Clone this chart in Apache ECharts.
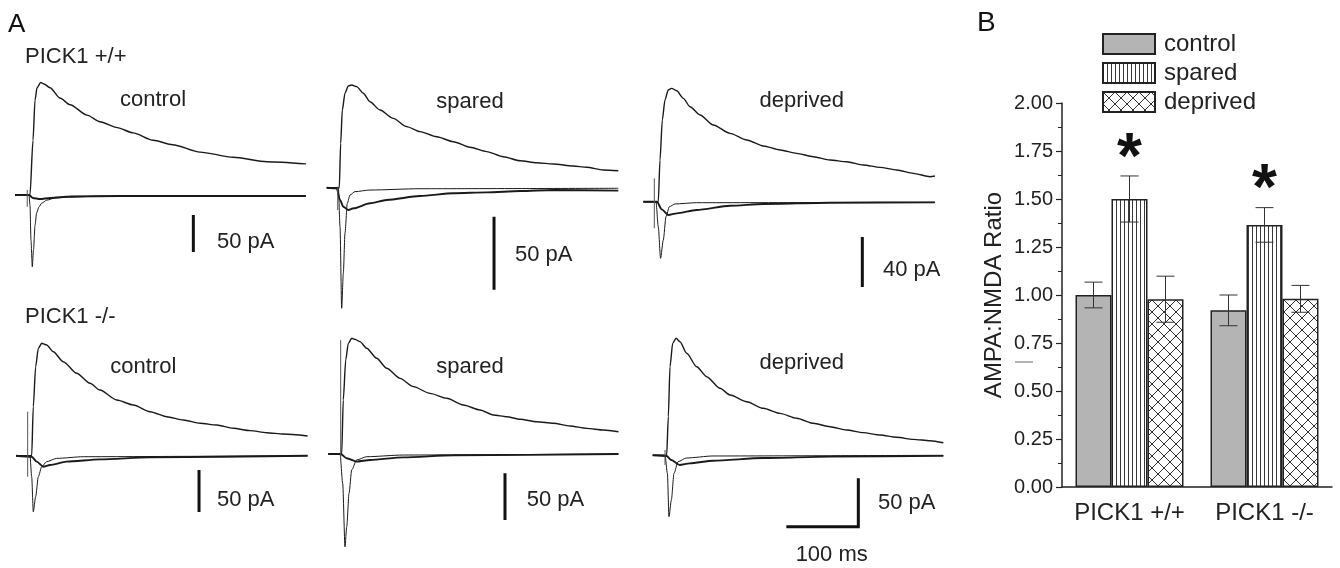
<!DOCTYPE html>
<html><head><meta charset="utf-8">
<script src="https://cdn.jsdelivr.net/npm/echarts@6/dist/echarts.min.js"></script>
<style>html,body{margin:0;padding:0;background:#fff}#c{width:1340px;height:568px}</style>
</head><body><div id="c"></div>
<script>
// ================= DATA =================
// Panel A traces: [time (ms), current (pA)]
// PICK1 +/+ control
const wtControlUp = [[0,0],[20.8,0],[25,74],[27.8,128],[30.6,145],[35.7,152],[40.3,150],[48.6,145],[62.5,131],[76.4,122],[100,108],[118,99],[142,91],[164,84],[192,74],[219,68],[257,58],[303,51],[350,45],[404,42]];
const wtControlFast = [[0,0],[19.4,0],[20.8,-13.5],[22.2,-61],[24,-97],[25.7,-74],[27.8,-41],[30.1,-24],[33.3,-16],[37.1,-11],[44,-7],[55.6,-4],[72,-3],[118,-1.5],[404,-1]];
const wtControlSlow = [[0,0],[19.4,0],[25,-4],[34.7,-5.4],[48.6,-4],[76,-2],[146,-1.4],[404,-1.4]];
// PICK1 +/+ spared
const wtSparedUp = [[0,0],[17.5,0],[19.4,30.4],[21.7,53.2],[25.4,64.7],[30,69.7],[34.7,70.3],[41.7,69.2],[50.8,64.7],[60.1,58.9],[74,53.2],[92.5,47.5],[111,41.8],[129.6,38.4],[152.8,34.9],[175.9,31.5],[199,27.7],[222.3,24.7],[245.3,21.2],[268.5,18.5],[291.7,17.1],[314.7,16.2],[342.5,14.9],[361,14],[384,12.1],[405,11.6]];
const wtSparedFast = [[0,0],[16.2,0],[18.5,-26.7],[20.8,-82.6],[23.1,-58.6],[25.4,-31.2],[28.6,-10.7],[32.4,-5],[39.3,-2.7],[60.1,-1.6],[129.6,-0.7],[405,-0.4]];
const wtSparedSlow = [[0,0],[13.9,-0.4],[18.5,-8.4],[23.1,-13],[30,-15.3],[37.5,-14.1],[60.1,-10.7],[83.3,-8.4],[129.6,-5.7],[175.9,-3.8],[222.3,-3.2],[268.5,-2.3],[314.7,-1.6],[405,-2]];
// PICK1 +/+ deprived
const wtDeprivedUp = [[0,0],[20.8,0],[23.2,33.4],[26.4,65.4],[30.1,81.4],[34.7,89.4],[39.4,90.7],[46.4,88.8],[55.6,82.7],[64.9,76],[78.8,69.4],[97.2,61.4],[120.4,54.7],[143.6,49.4],[166.7,44.6],[189.9,41.4],[213,38.7],[236.1,36],[259.3,33.4],[282.5,32],[305.6,29.4],[328.8,27.5],[352,25.4],[375,22.7],[398.2,20],[405,20.6]];
const wtDeprivedFast = [[0,0],[17.6,0],[20.8,-20],[24,-45.3],[27.8,-30.6],[31.5,-12],[36.2,-4],[44,-1.8],[74,-0.8],[405,-0.5]];
const wtDeprivedSlow = [[0,0],[19,0],[25.5,-6.1],[34.7,-10.6],[46.4,-9.3],[74,-6.6],[120.4,-3.2],[166.7,-1.8],[259.3,-0.8],[405,-0.5]];
// PICK1 -/- control
const koControlUp = [[0,0],[21.8,0],[24,58.3],[27.3,106],[31,127.8],[35.7,133.8],[42.6,131.8],[51.8,123.8],[65.7,111.9],[84.3,98.1],[102.8,86.2],[116.7,78.2],[139.9,66.3],[163,60.4],[186.1,52.4],[209.3,46.4],[232.4,42.5],[255.6,38.6],[278.7,36.5],[301.9,32.6],[325,29.8],[348.2,27.4],[371.3,25.8],[405,23.5]];
const koControlFast = [[0,0],[19.4,0],[21.8,-25],[24,-66.7],[27.3,-48.8],[31,-25],[35.7,-13.1],[42.6,-7.1],[56.5,-3.2],[93.5,-1.2],[405,0]];
const koControlSlow = [[0,0],[21.8,-1.2],[28.7,-7.1],[38,-13.1],[47.1,-11.1],[70.3,-7.1],[116.7,-4.4],[186.1,-2],[405,0]];
// PICK1 -/- spared
const koSparedUp = [[0,0],[18.6,0],[20.8,57.9],[24.2,100.8],[27.8,118.6],[32.5,124],[37.1,122.9],[44,120.4],[53.3,113.3],[67.2,102.6],[81.1,91.9],[99.6,81.1],[118.1,72.2],[141.3,65],[164.5,59.7],[187.5,52.5],[210.7,47.2],[229.2,41.8],[247.8,40],[266.3,37.2],[289.5,34.6],[312.5,32.9],[335.7,30],[358.9,27.5],[382,25.7],[403,23.9]];
const koSparedFast = [[0,0],[16.3,0],[20,-31.4],[23.2,-99.4],[25.6,-77.9],[28.8,-42.1],[32.5,-17.1],[39.4,-6.4],[53.3,-2.9],[104.2,-1.1],[403,0]];
const koSparedSlow = [[0,0],[17.2,0],[25.6,-4.6],[39.4,-8.2],[57.9,-6.4],[104.2,-3.6],[173.6,-1.4],[403,0]];
// PICK1 -/- deprived
const koDeprivedUp = [[0,0],[19.4,0],[21.7,40],[24,91.6],[27.8,115.8],[32.4,121],[37.9,117.5],[47.2,105.5],[61.1,91.6],[75,81.3],[93.5,69.3],[107.4,62.4],[130.6,55.4],[153.6,48.6],[176.8,43.4],[200,38.3],[223.1,33.1],[246.3,29.6],[269.4,26.2],[292.5,23.4],[315.7,21],[338.9,18.6],[362,16.5],[385.2,15.1],[403.7,13]];
const koDeprivedFast = [[0,0],[17.1,0],[20.4,-18.6],[22.6,-63.5],[25.9,-46.2],[29.6,-18.6],[35.2,-6.6],[46.7,-2.8],[83.8,-0.7],[403.7,0]];
const koDeprivedSlow = [[0,0],[19.4,-0.7],[25.9,-4.9],[37.5,-10],[51.4,-8.3],[83.8,-5.6],[153.6,-2.8],[246.3,-1.4],[403.7,-0.6]];

// stimulus artifacts: time (ms) and [top, bottom] (pA)
const stimTime = [17, 15.3, 15.3, 16.2, 17.2, 17.1];
const stimRange = [[6.8,-16],[0.7,-15.3],[18.7,-21.3],[52.4,-25],[122,-5],[5.5,-10]];

const conditions = ['control','spared','deprived','control','spared','deprived'];
const genotypes = ['PICK1 +/+','PICK1 -/-'];
const scaleBarPA = [50, 50, 40, 50, 50, 50];
const timeBarMs = 100;

// Panel B data
const groups = ['PICK1 +/+','PICK1 -/-'];
const controlMean = [1.00, 0.92];
const controlSem  = [0.067, 0.08];
const sparedMean  = [1.50, 1.365];
const sparedSem   = [0.12, 0.09];
const deprivedMean = [0.978, 0.98];
const deprivedSem  = [0.12, 0.07];
const sparedSig = ['*','*'];

// ================= LAYOUT =================
const FONT = '"Liberation Sans", Arial, sans-serif';
const PX_PER_MS = 0.72;
const T_MAX = 405;
const panels = [
  {left:15,    base:195,   pxPerPA:0.74,  min:-110, max:160, barT:247.7, barTop:-27,   cond:[153,100],   lbl:[217,242]},
  {left:326.7, base:187.7, pxPerPA:1.46,  min:-90,  max:80,  barT:232.4, barTop:-19.9, cond:[470,101.7], lbl:[515,255]},
  {left:643.3, base:201.7, pxPerPA:1.25,  min:-75,  max:100, barT:304.2, barTop:-28.2, cond:[801.7,100.7], lbl:[883,270]},
  {left:16,    base:455.7, pxPerPA:0.84,  min:-75,  max:145, barT:254.2, barTop:-17,   cond:[143.3,366.7], lbl:[217,500]},
  {left:328.3, base:454,   pxPerPA:0.933, min:-110, max:135, barT:245.4, barTop:-20.7, cond:[470,366.7], lbl:[526.7,500]},
  {left:652.7, base:455.3, pxPerPA:0.967, min:-85,  max:130, barT:285.6, barTop:-23.8, cond:[801.7,363.3], lbl:[878,503]}
];
const traces = [
  [wtControlUp, wtControlFast, wtControlSlow],
  [wtSparedUp, wtSparedFast, wtSparedSlow],
  [wtDeprivedUp, wtDeprivedFast, wtDeprivedSlow],
  [koControlUp, koControlFast, koControlSlow],
  [koSparedUp, koSparedFast, koSparedSlow],
  [koDeprivedUp, koDeprivedFast, koDeprivedSlow]
];

// ================= BUILD =================
const grid = [], xAxis = [], yAxis = [], series = [], graphic = [];
panels.forEach((p, i) => {
  grid.push({left:p.left, top:p.base - p.max*p.pxPerPA, width:T_MAX*PX_PER_MS, height:(p.max-p.min)*p.pxPerPA});
  xAxis.push({type:'value', gridIndex:i, min:0, max:T_MAX, show:false});
  yAxis.push({type:'value', gridIndex:i, min:p.min, max:p.max, show:false});
  const widths = [1.4, 1.0, 1.9];
  traces[i].forEach((d, k) => {
    series.push({type:'line', xAxisIndex:i, yAxisIndex:i, data:d, symbol:'none', smooth:0.25, smoothMonotone:'x',
      lineStyle:{color:'#1a1a1a', width:widths[k]}, silent:true, z:2});
  });
  series.push({type:'line', xAxisIndex:i, yAxisIndex:i, symbol:'none', silent:true,
    data:[[stimTime[i], stimRange[i][0]],[stimTime[i], stimRange[i][1]]],
    lineStyle:{color:'#555', width:1}});
  // vertical scale bar (and time bar in the last panel)
  const sb = [[p.barT, p.barTop],[p.barT, p.barTop - scaleBarPA[i]]];
  if (i === 5) sb.push([p.barT - timeBarMs, p.barTop - scaleBarPA[i]]);
  series.push({type:'line', xAxisIndex:i, yAxisIndex:i, symbol:'none', silent:true, data:sb,
    lineStyle:{color:'#111', width:3, cap:'butt', join:'miter'}});
  graphic.push({type:'text', x:p.cond[0], y:p.cond[1], style:{text:conditions[i], font:'22px '+FONT, fill:'#222', textAlign:'center', textVerticalAlign:'middle'}});
  graphic.push({type:'text', x:p.lbl[0], y:p.lbl[1], style:{text:scaleBarPA[i]+' pA', font:'22px '+FONT, fill:'#222', textAlign:'left', textVerticalAlign:'middle'}});
});
graphic.push({type:'text', x:831.7, y:555, style:{text:timeBarMs+' ms', font:'22px '+FONT, fill:'#222', textAlign:'center', textVerticalAlign:'middle'}});
graphic.push({type:'text', x:25, y:57, style:{text:genotypes[0], font:'22px '+FONT, fill:'#222', textAlign:'left', textVerticalAlign:'middle'}});
graphic.push({type:'text', x:25, y:316.5, style:{text:genotypes[1], font:'22px '+FONT, fill:'#222', textAlign:'left', textVerticalAlign:'middle'}});
graphic.push({type:'text', x:8, y:25, style:{text:'A', font:'26px '+FONT, fill:'#111', textAlign:'left', textVerticalAlign:'middle'}});
graphic.push({type:'text', x:977, y:23, style:{text:'B', font:'28px '+FONT, fill:'#111', textAlign:'left', textVerticalAlign:'middle'}});
graphic.push({type:'line', shape:{x1:1015, y1:362, x2:1033, y2:362}, style:{stroke:'#999', lineWidth:1.5}});

// ---- Panel B
function vPattern(){
  const c = document.createElement('canvas'); c.width = 4; c.height = 4;
  const g = c.getContext('2d'); g.fillStyle = '#fff'; g.fillRect(0,0,4,4);
  g.fillStyle = '#3a3a3a'; g.fillRect(0,0,1,4); return c;
}
function xPattern(){
  const s = 12, c = document.createElement('canvas'); c.width = s; c.height = s;
  const g = c.getContext('2d'); g.fillStyle = '#fff'; g.fillRect(0,0,s,s);
  g.strokeStyle = '#333'; g.lineWidth = 1; g.beginPath();
  g.moveTo(0,0); g.lineTo(s,s); g.moveTo(s,0); g.lineTo(0,s); g.stroke(); return c;
}
const bi = 6;
grid.push({left:1062, top:103, width:270, height:384});
xAxis.push({type:'category', gridIndex:bi, data:groups,
  axisLine:{lineStyle:{color:'#222', width:1.5}},
  axisTick:{alignWithLabel:true, length:7, lineStyle:{color:'#222', width:1.5}},
  axisLabel:{fontSize:24, fontFamily:FONT, color:'#222', margin:14, interval:0, hideOverlap:false}});
yAxis.push({type:'value', gridIndex:bi, min:0, max:2, interval:0.25,
  name:'AMPA:NMDA Ratio', nameLocation:'middle', nameGap:56,
  nameTextStyle:{fontSize:24, fontFamily:FONT, color:'#222'},
  axisLine:{show:true, lineStyle:{color:'#222', width:1.5}},
  axisTick:{show:true, length:6, lineStyle:{color:'#222', width:1.2}},
  minorTick:{show:true, splitNumber:2, length:4, lineStyle:{color:'#222', width:1}},
  splitLine:{show:false},
  axisLabel:{fontSize:20, fontFamily:FONT, color:'#222', margin:9, formatter:v => v.toFixed(2)}});

const barBase = {type:'bar', xAxisIndex:bi, yAxisIndex:bi, barWidth:36, barGap:'0%', silent:true};
series.push(Object.assign({}, barBase, {name:'control', data:controlMean,
  itemStyle:{color:'#b4b4b4', borderColor:'#222', borderWidth:1.5}}));
series.push(Object.assign({}, barBase, {name:'spared', data:sparedMean,
  itemStyle:{color:{image:vPattern(), repeat:'repeat'}, borderColor:'#222', borderWidth:1.5}}));
series.push(Object.assign({}, barBase, {name:'deprived', data:deprivedMean,
  itemStyle:{color:{image:xPattern(), repeat:'repeat'}, borderColor:'#222', borderWidth:1.5}}));

function errSeries(means, sems, offset, marks){
  return {type:'custom', xAxisIndex:bi, yAxisIndex:bi, silent:true, z:5,
    data: means.map((m, j) => [j, m, sems[j]]),
    encode:{x:0, y:1},
    renderItem: function(params, api){
      const c = api.value(0), m = api.value(1), e = api.value(2);
      const hi = api.coord([c, m + e]), lo = api.coord([c, m - e]);
      const x = hi[0] + offset, cap = 9, st = {stroke:'#333', lineWidth:1};
      const ch = [
        {type:'line', shape:{x1:x, y1:hi[1], x2:x, y2:lo[1]}, style:st},
        {type:'line', shape:{x1:x-cap, y1:hi[1], x2:x+cap, y2:hi[1]}, style:st},
        {type:'line', shape:{x1:x-cap, y1:lo[1], x2:x+cap, y2:lo[1]}, style:st}
      ];
      if (marks) ch.push({type:'text', x:x, y:hi[1]+16, style:{text:marks[params.dataIndex], font:'bold 64px '+FONT, fill:'#111', textAlign:'center', textVerticalAlign:'bottom'}});
      return {type:'group', children:ch};
    }};
}
series.push(errSeries(controlMean, controlSem, -36, null));
series.push(errSeries(sparedMean, sparedSem, 0, sparedSig));
series.push(errSeries(deprivedMean, deprivedSem, 36, null));

const chart = echarts.init(document.getElementById('c'), null, {renderer:'canvas'});
chart.setOption({
  animation:false,
  backgroundColor:'#fff',
  grid, xAxis, yAxis, series, graphic,
  legend:{data:['control','spared','deprived'], orient:'vertical', left:1097, top:27,
    icon:'rect', itemWidth:52, itemHeight:20, itemGap:5, selectedMode:false,
    textStyle:{fontSize:24, fontFamily:FONT, color:'#222', lineHeight:20, padding:[0,0,0,4]}}
});
</script></body></html>
